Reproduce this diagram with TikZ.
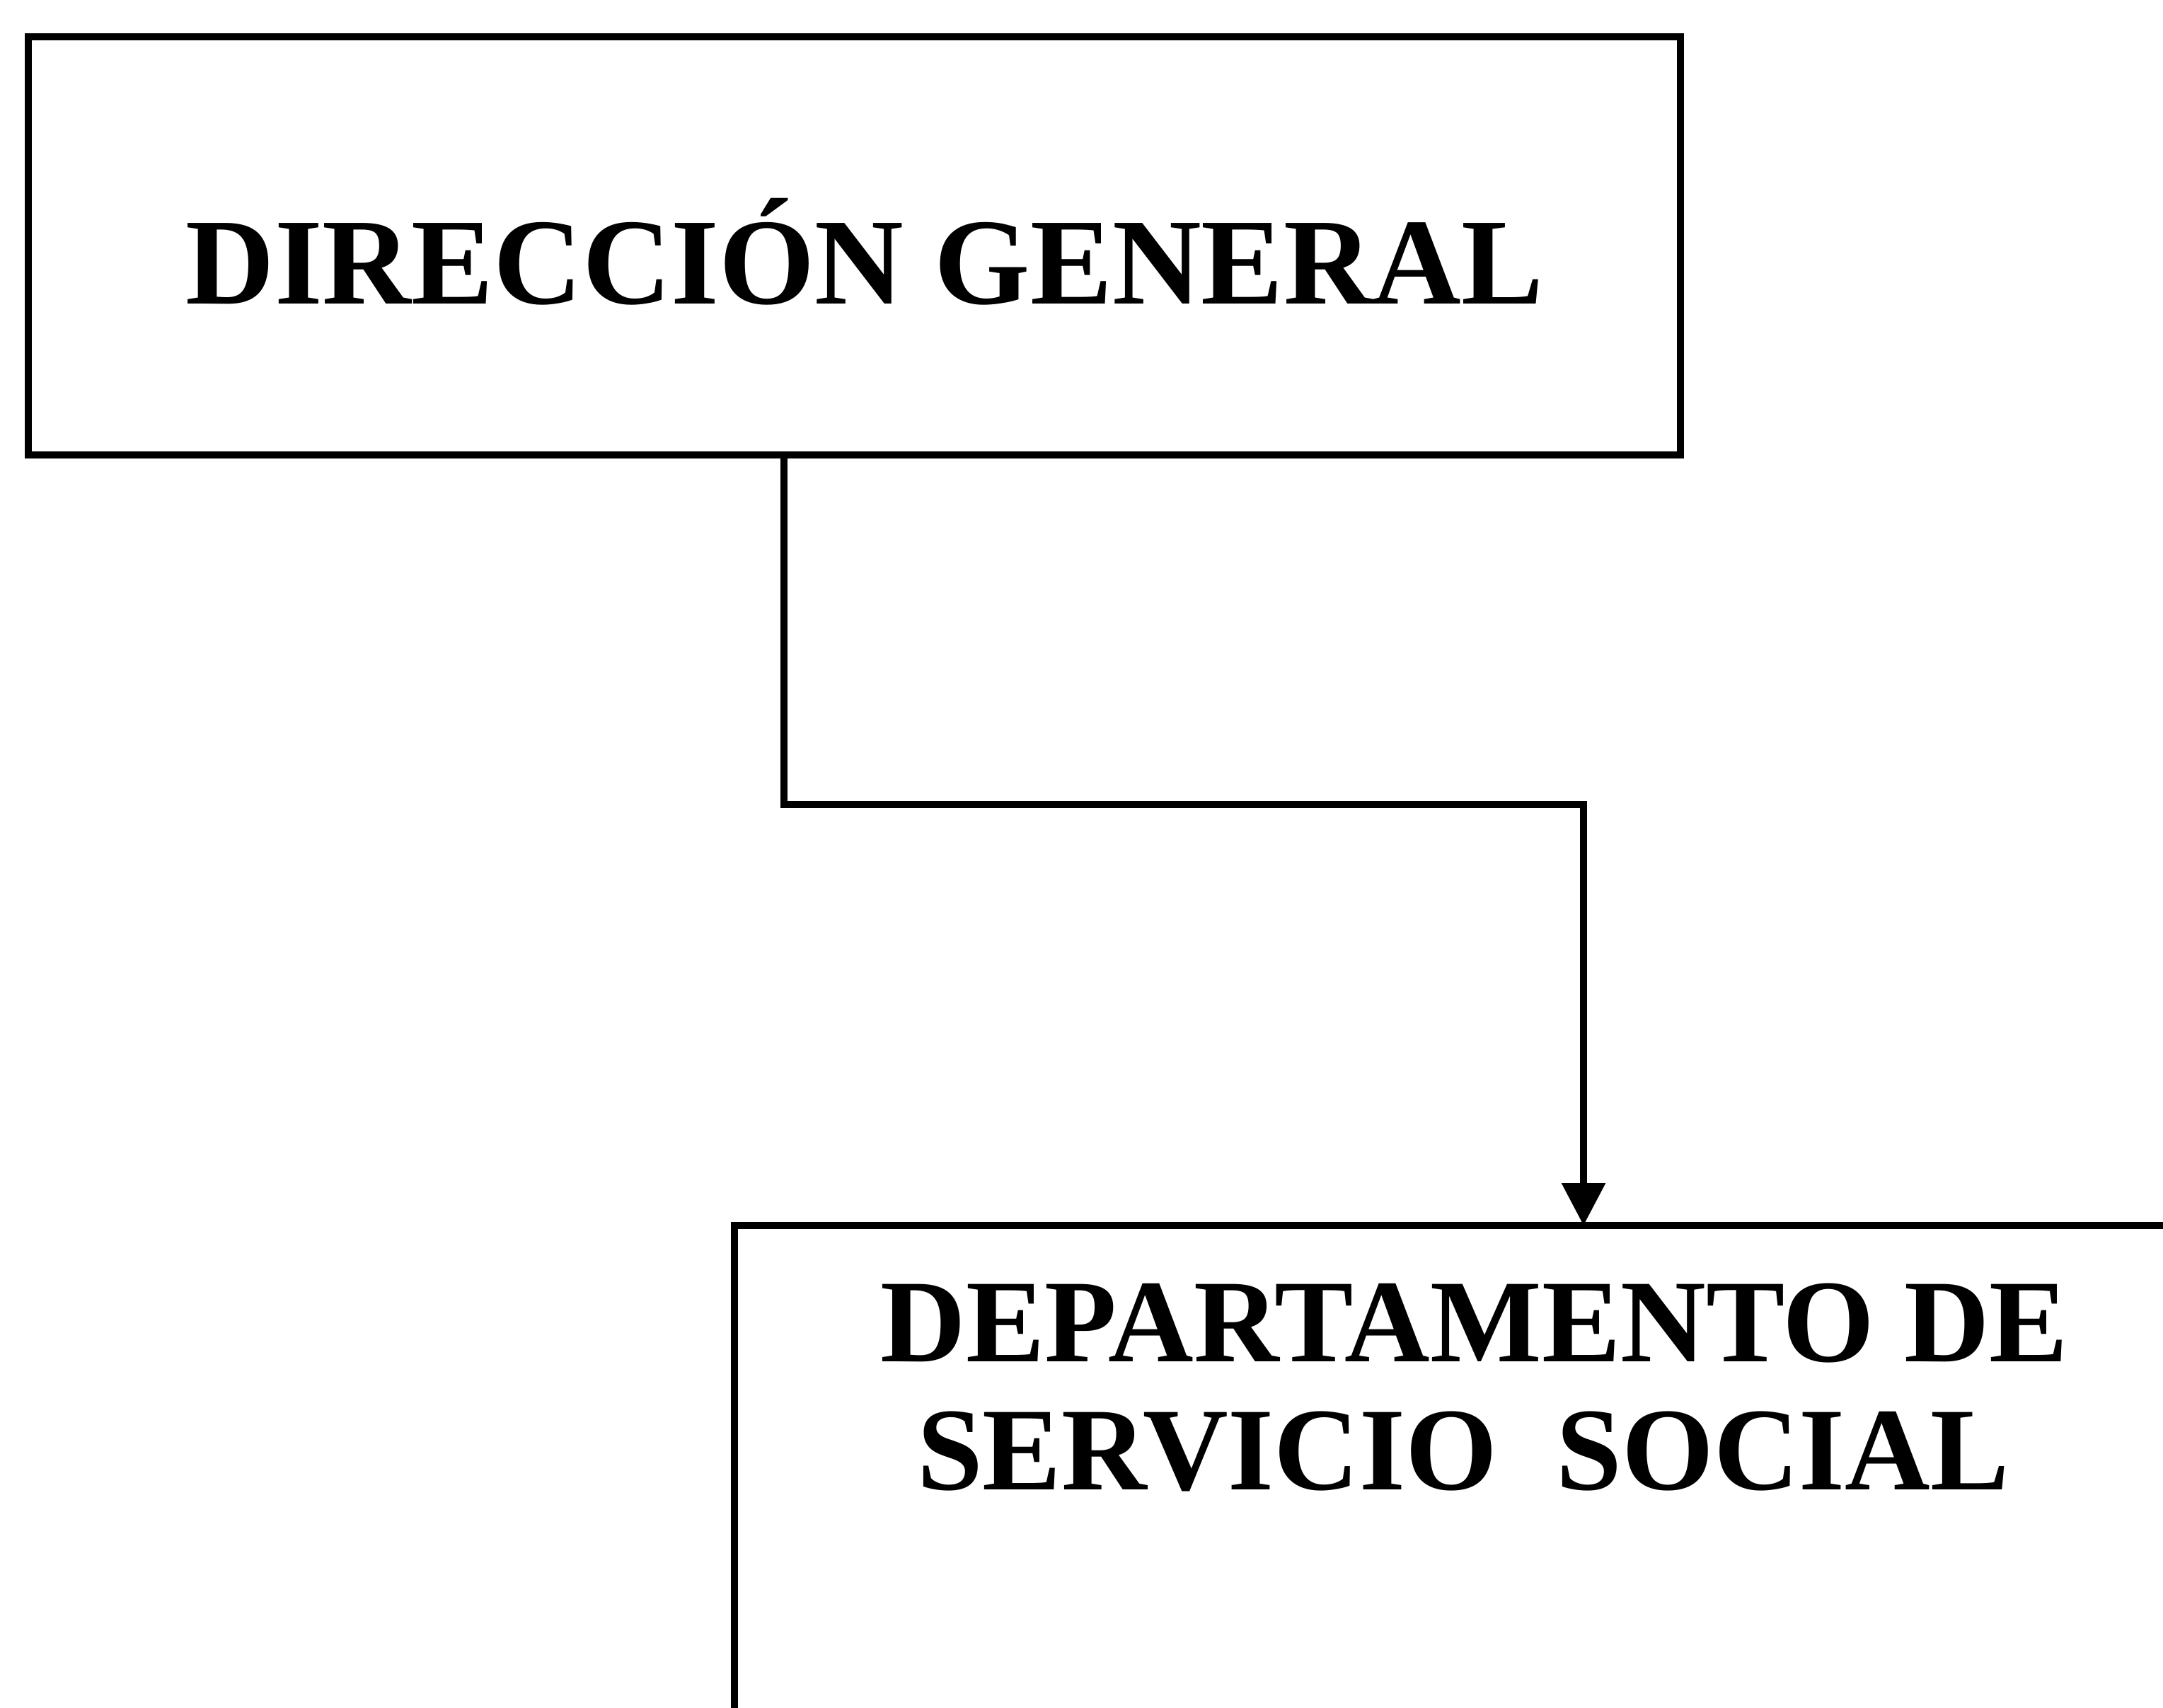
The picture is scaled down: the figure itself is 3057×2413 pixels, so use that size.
\documentclass[tikz,border=0pt]{standalone}
\usepackage{fontspec}
\setmainfont{Liberation Serif}
\usetikzlibrary{arrows.meta}
\begin{document}
\begin{tikzpicture}[x=0.25pt,y=-0.25pt,
  box/.style={draw, line width=2.5pt, inner sep=0pt, outer sep=0pt},
  conn/.style={line width=2.4pt},
  toplbl/.style={font=\fontsize{43.5pt}{53pt}\selectfont\bfseries, inner sep=0pt, anchor=base},
  botlbl/.style={font=\fontsize{41.75pt}{50pt}\selectfont\bfseries, inner sep=0pt, anchor=base}]
\useasboundingbox (0,0) rectangle (3057,2413);
\clip (0,0) rectangle (3057,2413);
% boxes
\node[box, minimum width=583.75pt, minimum height=147.75pt] (dg) at (1207.5,347.5) {};
\node[box, minimum width=540.5pt, minimum height=217pt] (dss) at (2119,2166) {};
% texts
\node[toplbl] (dgtext) at (1222,429) {DIRECCIÓN GENERAL};
\node[botlbl] (dsstextA) at (2084,1924) {DEPARTAMENTO DE};
\node[botlbl] (dsstextB) at (2068,2105) {SERVICIO~~SOCIAL};
% connector
\coordinate (bendA) at (1108,1137);
\coordinate (bendB) at (2238,1137);
\draw[conn, -{Triangle[length=15pt,width=15pt]}]
  (bendA |- dg.south) -- (bendA) -- (bendB) -- (bendB |- dss.north);
\end{tikzpicture}
\end{document}
